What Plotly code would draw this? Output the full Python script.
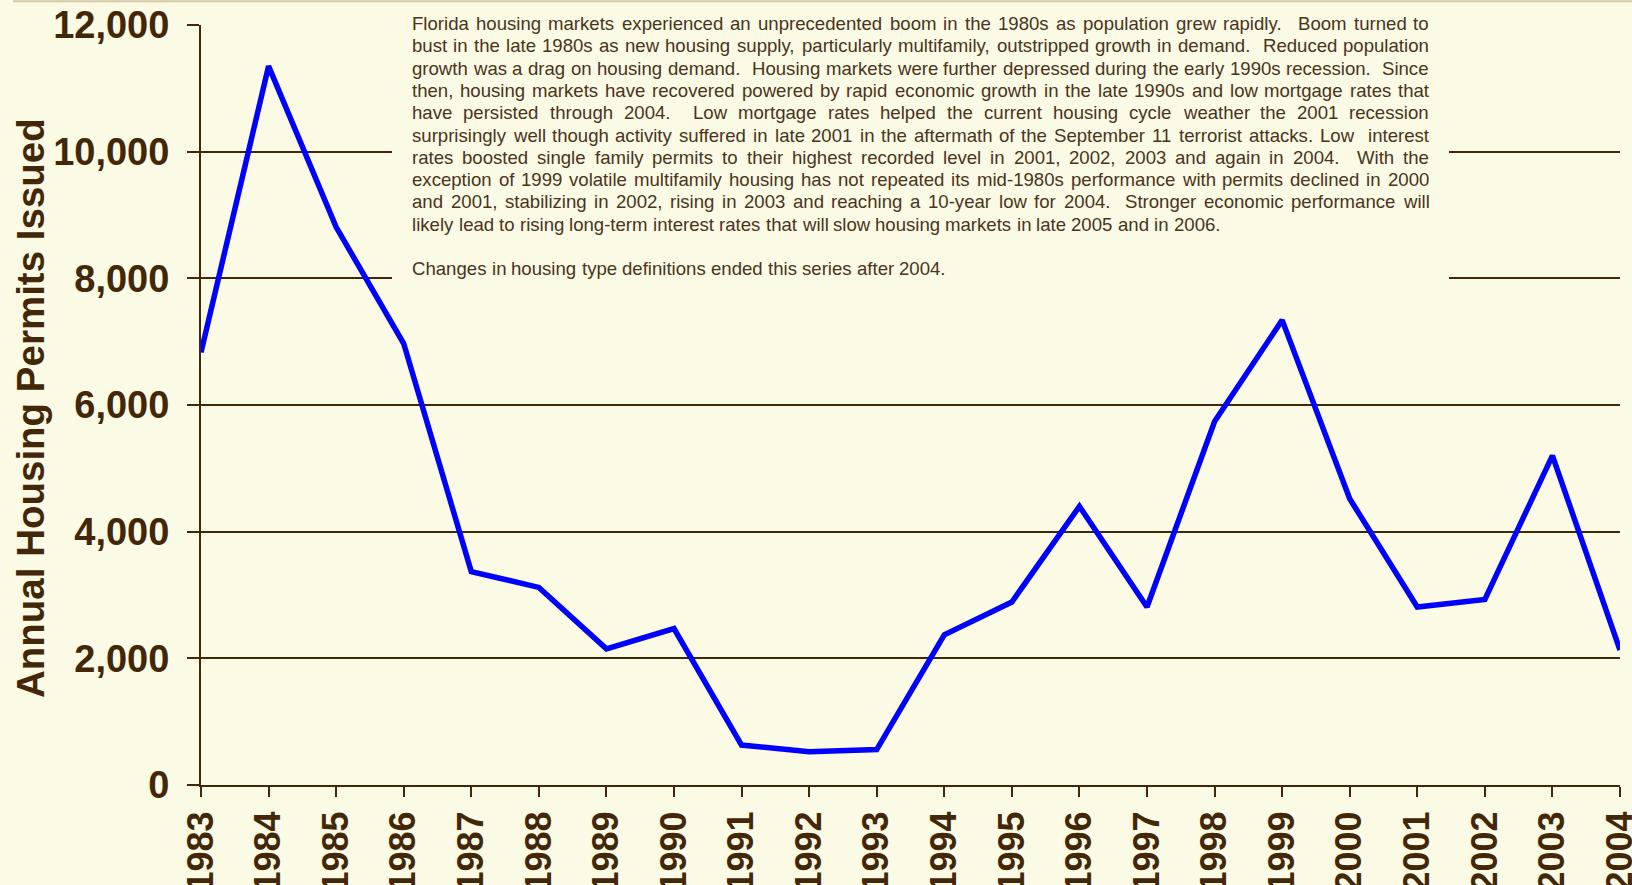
import plotly.graph_objects as go

# ---------------- data ----------------
years = [1983, 1984, 1985, 1986, 1987, 1988, 1989, 1990, 1991, 1992, 1993,
         1994, 1995, 1996, 1997, 1998, 1999, 2000, 2001, 2002, 2003, 2004]
permits = [6830, 11350, 8810, 6970, 3370, 3120, 2150, 2470, 630, 525, 560,
           2370, 2890, 4400, 2810, 5740, 7340, 4520, 2810, 2930, 5200, 2130]
year_labels = [str(y) for y in years]
y_ticks = [0, 2000, 4000, 6000, 8000, 10000, 12000]

note_lines = [
    "Florida housing markets experienced an unprecedented boom in the 1980s as population grew rapidly.  Boom turned to",
    "bust in the late 1980s as new housing supply, particularly multifamily, outstripped growth in demand.  Reduced population",
    "growth was a drag on housing demand.  Housing markets were further depressed during the early 1990s recession.  Since",
    "then, housing markets have recovered powered by rapid economic growth in the late 1990s and low mortgage rates that",
    "have persisted through 2004.  Low mortgage rates helped the current housing cycle weather the 2001 recession",
    "surprisingly well though activity suffered in late 2001 in the aftermath of the September 11 terrorist attacks. Low  interest",
    "rates boosted single family permits to their highest recorded level in 2001, 2002, 2003 and again in 2004.  With the",
    "exception of 1999 volatile multifamily housing has not repeated its mid-1980s performance with permits declined in 2000",
    "and 2001, stabilizing in 2002, rising in 2003 and reaching a 10-year low for 2004.  Stronger economic performance will",
    "likely lead to rising long-term interest rates that will slow housing markets in late 2005 and in 2006.",
    "",
    "Changes in housing type definitions ended this series after 2004.",
]
justified = [True] * 9 + [False, False, False]

# ---------------- style ----------------
W, H = 1632, 885
ML, MR, MT, MB = 201, 12, 25, 100
PW, PH = W - ML - MR, H - MT - MB
BG = "#FBFAE4"
BROWN = "#432709"
TEXT = "#4A341C"
FONT = "Liberation Sans, Arial, sans-serif"
NOTE_SIZE = 18.6

def px_x(p):
    return (p - ML) / PW

def px_y(p):
    return (H - MB - p) / PH

# Arial / Liberation Sans advance widths (1/1000 em)
AW = {' ': 278, '!': 278, '"': 355, '#': 556, '$': 556, '%': 889, '&': 667, "'": 191,
      '(': 333, ')': 333, '*': 389, '+': 584, ',': 278, '-': 333, '.': 278, '/': 278,
      ':': 278, ';': 278, '?': 556,
      'A': 667, 'B': 667, 'C': 722, 'D': 722, 'E': 667, 'F': 611, 'G': 778, 'H': 722,
      'I': 278, 'J': 500, 'K': 667, 'L': 556, 'M': 833, 'N': 722, 'O': 778, 'P': 667,
      'Q': 778, 'R': 722, 'S': 667, 'T': 611, 'U': 722, 'V': 667, 'W': 944, 'X': 667,
      'Y': 667, 'Z': 611,
      'a': 556, 'b': 556, 'c': 500, 'd': 556, 'e': 556, 'f': 278, 'g': 556, 'h': 556,
      'i': 222, 'j': 222, 'k': 500, 'l': 222, 'm': 833, 'n': 556, 'o': 556, 'p': 556,
      'q': 556, 'r': 333, 's': 500, 't': 278, 'u': 556, 'v': 500, 'w': 722, 'x': 500,
      'y': 500, 'z': 500}
for d in "0123456789":
    AW[d] = 556

def tw(s):
    return sum(AW.get(c, 556) for c in s) / 1000.0 * NOTE_SIZE

fig = go.Figure()
fig.add_trace(go.Scatter(
    x=years, y=permits, mode="lines",
    line=dict(color="#0000FF", width=5.5),
    cliponaxis=False, hoverinfo="skip", showlegend=False,
))

annotations = []
LEFT, RIGHT = 411.0, 1428.0
LINE0, STEP = 23.5, 22.3
for i, line in enumerate(note_lines):
    if not line:
        continue
    yc = LINE0 + i * STEP
    tokens = line.split(" ")
    nsp = len(tokens) - 1
    extra = 0.0
    if justified[i] and nsp > 0:
        extra = (RIGHT - LEFT - tw(line)) / nsp
    x = LEFT
    for t in tokens:
        if t:
            annotations.append(dict(
                x=px_x(x), y=px_y(yc), xref="paper", yref="paper",
                xanchor="left", yanchor="middle", text=t, showarrow=False,
                borderpad=0, font=dict(family=FONT, size=NOTE_SIZE, color=TEXT)))
        x += tw(t) + tw(" ") + extra

annotations.append(dict(
    x=px_x(30), y=px_y(408), xref="paper", yref="paper",
    xanchor="center", yanchor="middle", textangle=-90, showarrow=False,
    text="Annual Housing Permits Issued",
    font=dict(family=FONT, size=38.5, color=BROWN, weight="bold")))

shapes = [
    dict(type="rect", xref="paper", yref="paper",
         x0=px_x(392), x1=px_x(1449), y0=px_y(292), y1=px_y(4),
         fillcolor=BG, line=dict(width=0), layer="above"),
    dict(type="line", xref="paper", yref="paper",
         x0=px_x(13), x1=px_x(W), y0=px_y(1.2), y1=px_y(1.2),
         line=dict(color="#D6CAA6", width=2), layer="above"),
]

fig.update_layout(
    width=W, height=H,
    margin=dict(l=ML, r=MR, t=MT, b=MB, autoexpand=False),
    paper_bgcolor=BG, plot_bgcolor=BG,
    showlegend=False,
    annotations=annotations, shapes=shapes,
    xaxis=dict(
        range=[years[0], years[-1]], tickmode="array",
        tickvals=years, ticktext=year_labels, tickangle=-90,
        ticks="outside", ticklen=10, tickwidth=2, tickcolor=BROWN,
        showline=True, linecolor=BROWN, linewidth=2,
        showgrid=False, zeroline=False, automargin=False,
        tickfont=dict(family=FONT, size=36, color=BROWN, weight="bold"),
        ticklabelstandoff=0, ticklabeloverflow="allow",
    ),
    yaxis=dict(
        range=[0, 12000], tickmode="array", tickvals=y_ticks,
        tickformat=",d",
        ticks="outside", ticklen=12, tickwidth=2, tickcolor=BROWN,
        showline=True, linecolor=BROWN, linewidth=2,
        showgrid=True, gridcolor=BROWN, gridwidth=2,
        zeroline=False, automargin=False,
        tickfont=dict(family=FONT, size=38, color=BROWN, weight="bold"),
        ticklabelstandoff=10, ticklabeloverflow="allow",
    ),
)

fig.write_html(
    "out.html",
    config={"displayModeBar": False},
    post_script=("document.body.style.margin='0';"
                 "document.body.style.background='" + BG + "';"
                 "document.documentElement.style.overflow='hidden';"),
)
